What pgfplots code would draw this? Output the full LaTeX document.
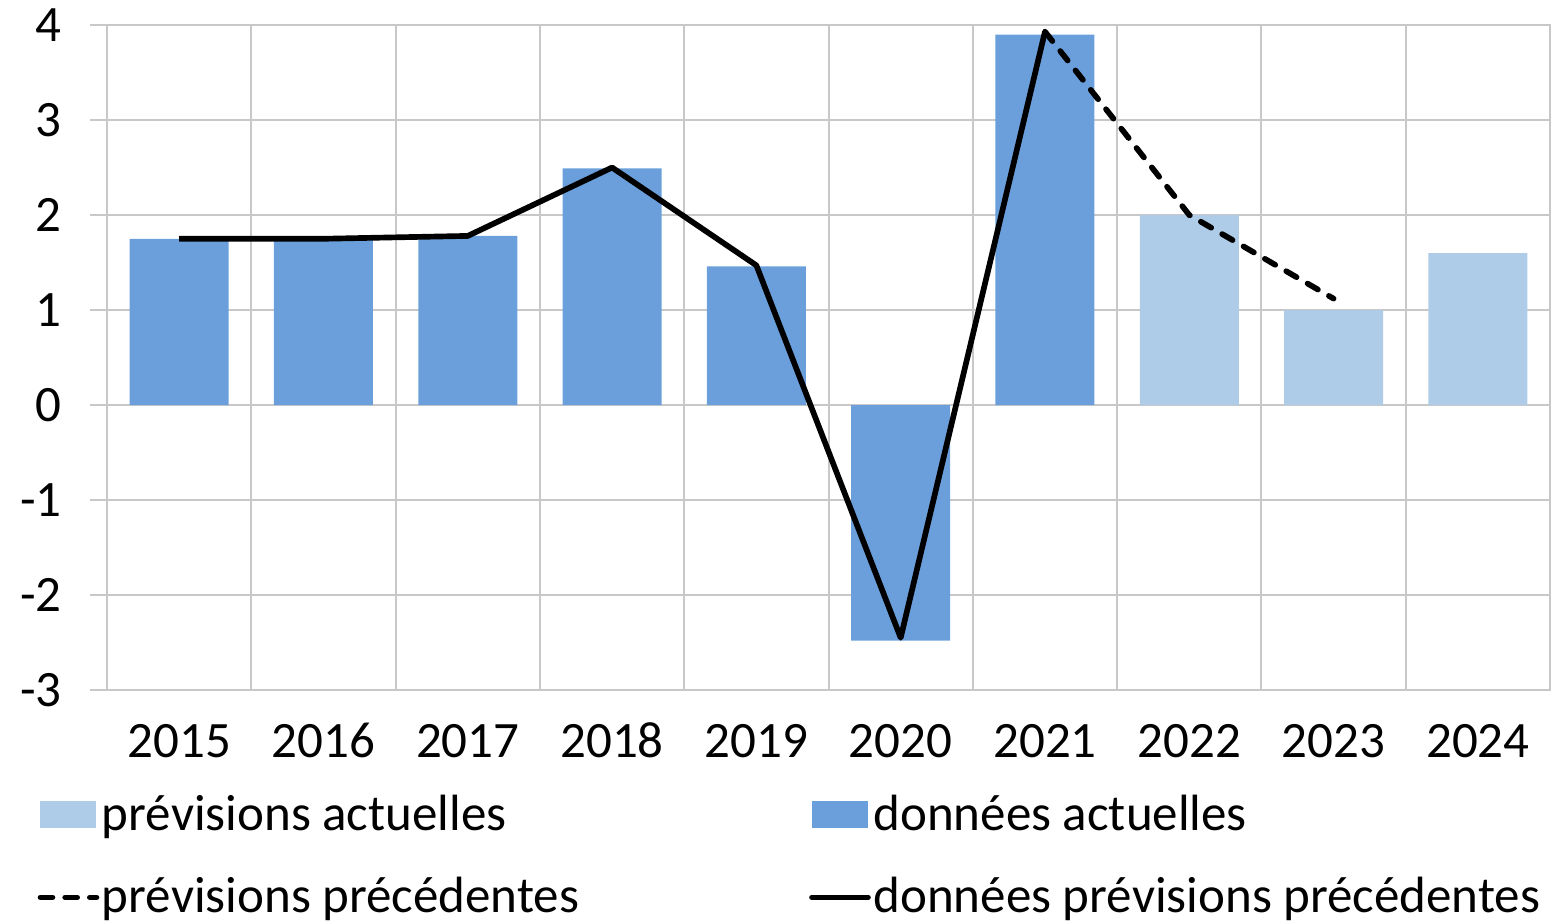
\documentclass[border=0pt]{standalone}
\usepackage{fontspec}
\setmainfont{Carlito}
\usepackage{pgfplots}
\pgfplotsset{compat=1.18}

\definecolor{barDark}{RGB}{106,159,219}
\definecolor{barLight}{RGB}{174,204,232}
\definecolor{gridGray}{RGB}{200,200,200}

\begin{document}
\begin{tikzpicture}
  % page = 1557 x 921 px at 0.3pt per px; axis lower left at px (107,690)
  \path[use as bounding box] (-32.1pt,-69.3pt) rectangle (435pt,207pt);
  \begin{axis}[
      at={(0,0)}, anchor=south west,
      scale only axis,
      width=432.9pt, height=199.5pt,
      xmin=-0.5, xmax=9.5,
      ymin=-3, ymax=4,
      xtick={0,...,9},
      xticklabels={2015,2016,2017,2018,2019,2020,2021,2022,2023,2024},
      minor xtick={-0.5,0.5,...,9.5},
      ytick={-3,-2,...,4},
      ytick pos=left,
      tick align=outside,
      major tick length=5.1pt,
      minor tick length=0pt,
      xtick style={draw=none},
      ytick style={gridGray, line width=0.6pt},
      ymajorgrids, xminorgrids,
      minor x grid style={gridGray, line width=0.6pt},
      major grid style={gridGray, line width=0.6pt},
      axis line style={gridGray, line width=0.6pt},
      /pgf/number format/assume math mode=true,
      ticklabel style={font=\fontsize{15.3}{18}\selectfont},
      yticklabel style={xshift=-5pt},
      xticklabel style={text height=10pt, text depth=0pt, yshift=-1.5pt},
      legend columns=2,
      legend style={
        at={(0,0)}, anchor=north west,
        xshift=-21pt, yshift=-31pt,
        draw=none, fill=none, inner sep=0pt,
        font=\fontsize{15.3}{18}\selectfont,
        nodes={inner sep=0pt, text height=11pt, text depth=4pt},
        row sep=9.6pt,
        /tikz/column 1/.style={column sep=0.8pt},
        /tikz/column 2/.style={column sep=69pt},
        /tikz/column 3/.style={column sep=0.8pt},
      },
      legend cell align=left,
    ]
    % prévisions actuelles
    \addplot[ybar, bar width=0.686, bar shift=0pt, fill=barLight, draw=none,
      legend image code/.code={\fill[barLight] (0pt,-2.8pt) rectangle (16.8pt,5.3pt);}]
      coordinates {(7,2.0) (8,1.0) (9,1.6)};
    \addlegendentry{prévisions actuelles}
    % données actuelles
    \addplot[ybar, bar width=0.686, bar shift=0pt, fill=barDark, draw=none,
      legend image code/.code={\fill[barDark] (0pt,-2.8pt) rectangle (16.8pt,5.3pt);}]
      coordinates {(0,1.75) (1,1.75) (2,1.78) (3,2.49) (4,1.46) (5,-2.48) (6,3.90)};
    \addlegendentry{données actuelles}
    % prévisions précédentes
    \addplot[black, line width=1.7pt, line cap=round, dash pattern=on 3.6pt off 3.8pt,
      legend image code/.code={\draw[black, line width=1.7pt, line cap=round, dash pattern=on 3.6pt off 3.8pt] (0pt,1.1pt) -- (16.8pt,1.1pt);}]
      coordinates {(6,3.93) (7,2.0) (8,1.12)};
    \addlegendentry{prévisions précédentes}
    % données prévisions précédentes
    \addplot[black, line width=1.7pt, line join=round,
      legend image code/.code={\draw[black, line width=1.7pt, line cap=round] (0pt,1.1pt) -- (16.8pt,1.1pt);}]
      coordinates {(0,1.75) (1,1.75) (2,1.78) (3,2.50) (4,1.47) (5,-2.45) (6,3.93)};
    \addlegendentry{données prévisions précédentes}
  \end{axis}
\end{tikzpicture}
\end{document}
